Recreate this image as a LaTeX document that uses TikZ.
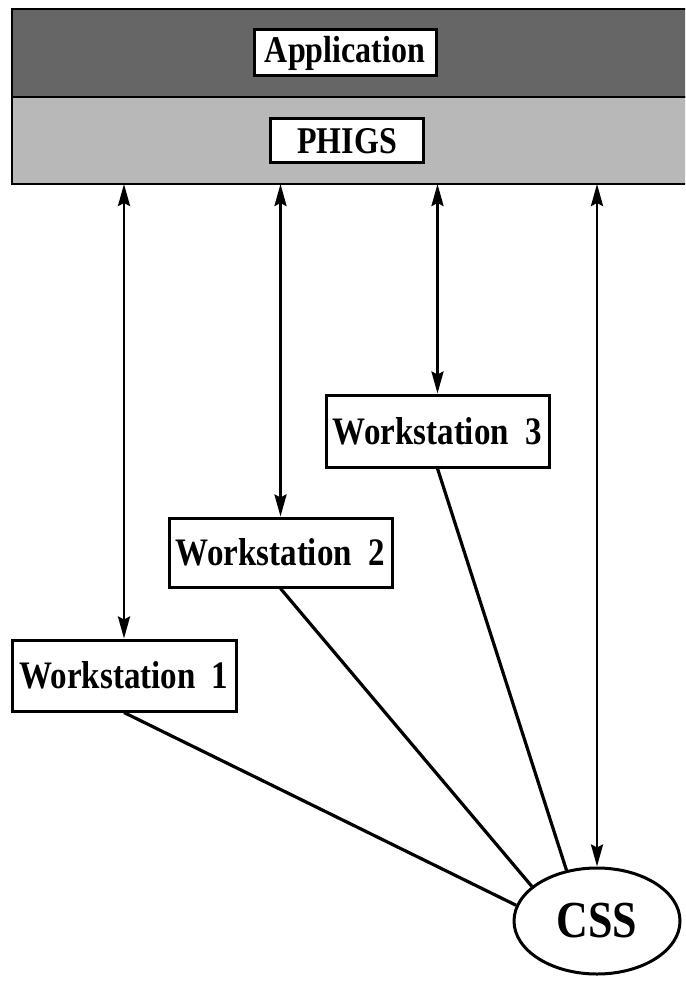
\documentclass[tikz,border=0pt]{standalone}
\usepackage{fontspec}
\setmainfont{Liberation Serif}
\usetikzlibrary{arrows.meta,shapes.geometric}
\newcommand{\talltext}[1]{\scalebox{1}[1.18]{#1}}
\begin{document}
\begin{tikzpicture}[x=1pt,y=-1pt,
  lbl/.style={font=\fontsize{32}{32}\selectfont\bfseries},
  wsbox/.style={draw,line width=3pt,fill=white,inner sep=0pt,lbl},
  band/.style={draw,line width=2.8pt,inner sep=0pt,outer sep=0pt},
  link/.style={line width=3.2pt},
  dbl/.style={line width=2.8pt,{Stealth[length=22pt,width=12pt,inset=3pt]}-{Stealth[length=22pt,width=12pt,inset=3pt]}}]
\useasboundingbox (0,0) rectangle (685,981);
\begin{scope}
\clip (0,0) rectangle (685,981);
\node[band,fill=black!60,minimum width=680pt,minimum height=88pt,anchor=north west] (appband) at (12,9) {};
\node[band,fill=black!28,minimum width=680pt,minimum height=87pt,anchor=north west] (phigsband) at (12,97) {};
\end{scope}
\node[wsbox,minimum width=182pt,minimum height=46pt] (app) at (345,53) {\talltext{Application}};
\node[wsbox,minimum width=153pt,minimum height=44pt] (phigs) at (347,141) {\talltext{PHIGS}};
\node[wsbox,minimum width=224pt,minimum height=71pt,font=\fontsize{33}{33}\selectfont\bfseries] (ws1) at (124,675.5) {\talltext{Workstation\ \ 1}};
\node[wsbox,minimum width=223pt,minimum height=69pt,font=\fontsize{33}{33}\selectfont\bfseries] (ws2) at (280.5,552.5) {\talltext{Workstation\ \ 2}};
\node[wsbox,minimum width=223pt,minimum height=72pt,font=\fontsize{33}{33}\selectfont\bfseries] (ws3) at (437.5,431) {\talltext{Workstation\ \ 3}};
\node[draw,ellipse,line width=3pt,minimum width=166pt,minimum height=106pt,inner sep=0pt,font=\fontsize{44}{44}\selectfont\bfseries] (css) at (597,921) {\talltext{CSS}};
\draw[dbl] (ws1.north |- phigsband.south) -- (ws1.north);
\draw[dbl] (ws2.north |- phigsband.south) -- (ws2.north);
\draw[dbl] (ws3.north |- phigsband.south) -- (ws3.north);
\draw[dbl] (css.north |- phigsband.south) -- (css.north);
\draw[link] (ws1.south) -- (css.169);
\draw[link] (ws2.south) -- (css.152);
\draw[link] (ws3.south) -- (css.121);
\end{tikzpicture}
\end{document}
